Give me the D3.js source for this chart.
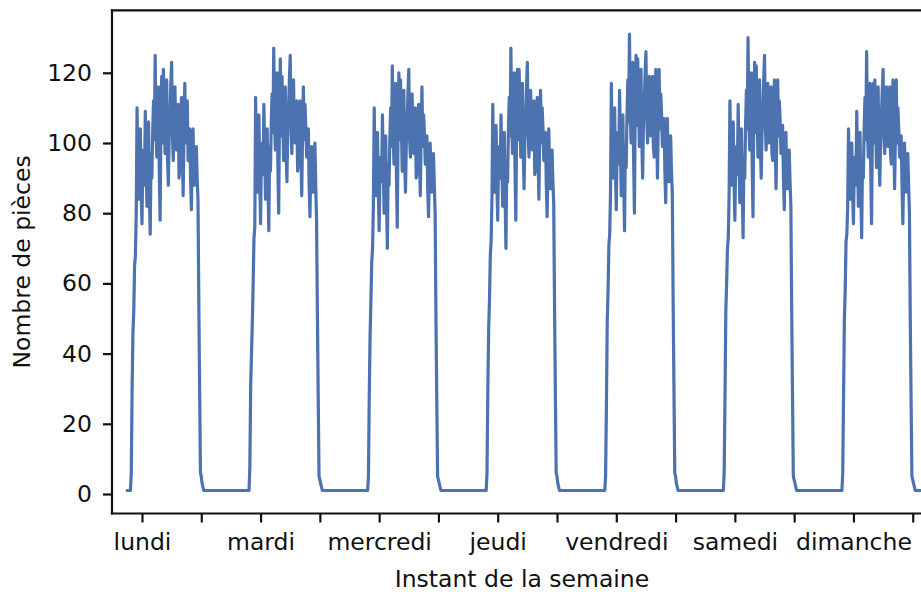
<!DOCTYPE html>
<html>
<head>
<meta charset="utf-8">
<script src="https://cdn.jsdelivr.net/npm/d3@7"></script>
<style>
  body { margin: 0; background: #fff; }
  svg { display: block; font-family: "DejaVu Sans", sans-serif; }
</style>
</head>
<body>
<svg id="chart"></svg>
<script>
// Jours affichés sous l'axe (étiquette à midi de chaque jour)
const dayNames = ["lundi", "mardi", "mercredi", "jeudi", "vendredi", "samedi", "dimanche"];
const yTicks = [0, 20, 40, 60, 80, 100, 120];

// Relevés toutes les 10 minutes, à partir de 9h40 de chaque jour
const lundi = [1, 6, 30, 46, 52, 65, 68, 80,
  110, 92, 84, 101, 104, 86, 77, 95, 98, 88, 109, 96, 82, 99, 106, 85, 74, 97, 90, 103, 112, 101, 125, 104, 96, 111, 116, 92, 78, 105, 119, 100, 121, 110, 97, 114, 118, 96, 88, 102, 108, 117, 123, 102, 95, 109, 116, 104, 98, 106, 111, 90, 93, 107, 113, 98, 85, 104, 117, 100, 109, 112, 95, 99, 104, 90, 81, 96, 104, 92, 88, 97, 99, 90, 84,
  55, 30, 6, 5, 3, 2, 1];
const mardi = [1, 8, 31, 40, 49, 60, 73, 76,
  113, 95, 86, 102, 108, 90, 77, 97, 100, 91, 111, 98, 84, 96, 104, 88, 75, 99, 92, 106, 114, 103, 127, 106, 98, 113, 120, 94, 80, 108, 124, 102, 119, 108, 95, 110, 116, 98, 89, 104, 110, 118, 125, 104, 97, 111, 118, 105, 100, 108, 112, 92, 95, 106, 112, 97, 85, 103, 116, 101, 111, 104, 96, 100, 104, 88, 79, 94, 99, 91, 86, 97, 100, 88, 78,
  52, 28, 5, 4, 3, 2, 1];
const mercredi = [1, 5, 28, 45, 55, 66, 70, 82,
  110, 93, 85, 99, 103, 87, 75, 92, 96, 89, 108, 94, 80, 97, 102, 83, 70, 94, 88, 101, 110, 99, 122, 103, 94, 109, 117, 91, 76, 104, 120, 101, 118, 106, 92, 108, 115, 95, 86, 100, 106, 114, 121, 101, 96, 108, 114, 103, 97, 105, 110, 90, 92, 104, 111, 96, 85, 102, 116, 99, 108, 103, 94, 98, 102, 87, 79, 93, 100, 90, 86, 95, 97, 88, 80,
  50, 27, 5, 4, 3, 2, 1];
const jeudi = [1, 6, 30, 47, 55, 68, 72, 84,
  111, 94, 86, 100, 105, 88, 78, 96, 99, 90, 108, 95, 82, 98, 103, 84, 70, 95, 89, 104, 113, 102, 127, 105, 97, 112, 120, 93, 78, 106, 121, 101, 121, 109, 96, 111, 117, 97, 87, 101, 107, 116, 123, 103, 96, 109, 115, 104, 98, 107, 112, 91, 93, 105, 113, 97, 84, 102, 115, 100, 110, 104, 95, 99, 103, 88, 79, 95, 104, 93, 87, 96, 98, 89, 83,
  54, 29, 6, 5, 3, 2, 1];
const vendredi = [1, 5, 25, 49, 58, 71, 74, 86,
  117, 98, 90, 105, 110, 92, 81, 99, 103, 94, 115, 100, 85, 102, 108, 89, 75, 99, 93, 108, 118, 106, 131, 109, 100, 116, 123, 96, 80, 110, 125, 105, 124, 112, 99, 115, 121, 101, 90, 106, 112, 120, 126, 107, 100, 113, 119, 108, 102, 112, 119, 99, 96, 110, 121, 104, 90, 107, 121, 104, 114, 108, 99, 103, 107, 92, 83, 98, 107, 95, 89, 99, 102, 92, 86,
  56, 31, 6, 5, 3, 2, 1];
const samedi = [1, 6, 27, 52, 60, 70, 73, 85,
  112, 96, 88, 101, 106, 89, 78, 95, 99, 91, 111, 97, 83, 99, 104, 86, 73, 96, 90, 105, 115, 104, 130, 107, 98, 114, 120, 94, 79, 108, 123, 103, 122, 110, 96, 112, 118, 99, 90, 103, 109, 118, 125, 105, 98, 111, 117, 106, 100, 109, 116, 97, 95, 108, 118, 101, 87, 104, 118, 102, 112, 106, 97, 101, 105, 90, 81, 96, 103, 92, 87, 95, 98, 89, 82,
  53, 28, 5, 4, 3, 2, 1];
const dimanche = [1, 6, 28, 50, 58, 72, 74, 82,
  104, 91, 84, 97, 100, 86, 77, 93, 96, 88, 109, 95, 82, 98, 103, 85, 73, 95, 90, 104, 113, 101, 126, 104, 96, 110, 117, 92, 77, 103, 117, 100, 118, 107, 93, 109, 116, 97, 88, 101, 108, 115, 121, 102, 97, 109, 116, 104, 99, 107, 116, 97, 94, 108, 118, 101, 87, 103, 118, 100, 110, 104, 96, 99, 102, 88, 77, 92, 100, 90, 86, 94, 97, 88, 80,
  50, 27, 5, 4, 3, 2, 1];

const weekDays = [lundi, mardi, mercredi, jeudi, vendredi, samedi, dimanche];
const dayStartHour = 9 + 40 / 60;   // début des relevés de chaque jour
const stepHours = 10 / 60;          // pas entre deux relevés
const recordStart = { h: 9, v: 1 };   // début de l'enregistrement (lundi 9h)
const recordEnd = { h: 177, v: 1 };   // fin (lundi suivant 9h)

const width = 921, height = 592;
const margin = { left: 112, top: 10.3, bottom: 513.5, right: 932 };
const ink = "#111";

const svg = d3.select("#chart").attr("width", width).attr("height", height);

// heures depuis lundi 0h
const x = d3.scaleLinear().domain([5.93, 171.9]).range([margin.left, margin.right]);
const y = d3.scaleLinear().domain([-5.55, 137.8]).range([margin.bottom, margin.top]);

let points = [recordStart];
weekDays.forEach((vals, d) => {
  vals.forEach((v, i) => {
    points.push({ h: 24 * d + dayStartHour + i * stepHours, v: v });
  });
});
points.push(recordEnd);

svg.append("clipPath").attr("id", "clip")
  .append("rect")
  .attr("x", margin.left).attr("y", margin.top)
  .attr("width", margin.right - margin.left)
  .attr("height", margin.bottom - margin.top);

const line = d3.line().x(d => x(d.h)).y(d => y(d.v));

svg.append("path")
  .datum(points)
  .attr("clip-path", "url(#clip)")
  .attr("fill", "none")
  .attr("stroke", "#4C72B0")
  .attr("stroke-width", 3.2)
  .attr("stroke-linejoin", "round")
  .attr("stroke-linecap", "round")
  .attr("d", line);

// Axe Y
const yAxis = svg.append("g")
  .attr("transform", `translate(${margin.left},0)`)
  .call(d3.axisLeft(y).tickValues(yTicks).tickSize(9).tickSizeOuter(0).tickPadding(11));

// Axe X : un trait toutes les 12 h, le nom du jour à midi
const xTicks = d3.range(12, 169, 12);
const xAxis = svg.append("g")
  .attr("transform", `translate(0,${margin.bottom})`)
  .call(d3.axisBottom(x).tickValues(xTicks).tickSize(9).tickSizeOuter(0).tickPadding(11)
    .tickFormat(h => (h % 24 === 12 ? dayNames[(h - 12) / 24] : "")));

[yAxis, xAxis].forEach(g => {
  g.select(".domain").remove();
  g.selectAll(".tick line").attr("stroke", ink).attr("stroke-width", 2.2);
  g.selectAll(".tick text").attr("font-size", 23.5).attr("font-family", "DejaVu Sans").attr("fill", ink);
});

// Cadres (gauche, haut, bas)
const spine = [
  [margin.left, margin.top, margin.left, margin.bottom],
  [margin.left, margin.top, margin.right, margin.top],
  [margin.left, margin.bottom, margin.right, margin.bottom]
];
svg.selectAll("line.spine").data(spine).enter().append("line")
  .attr("class", "spine")
  .attr("x1", d => d[0]).attr("y1", d => d[1])
  .attr("x2", d => d[2]).attr("y2", d => d[3])
  .attr("stroke", ink).attr("stroke-width", 2.2)
  .attr("stroke-linecap", "square");

svg.append("text")
  .attr("x", (margin.left + margin.right) / 2)
  .attr("y", 587)
  .attr("text-anchor", "middle")
  .attr("font-size", 23.5)
  .attr("fill", ink)
  .text("Instant de la semaine");

svg.append("text")
  .attr("transform", `translate(30,${(margin.top + margin.bottom) / 2}) rotate(-90)`)
  .attr("text-anchor", "middle")
  .attr("font-size", 23.5)
  .attr("fill", ink)
  .text("Nombre de pièces");
</script>
</body>
</html>
